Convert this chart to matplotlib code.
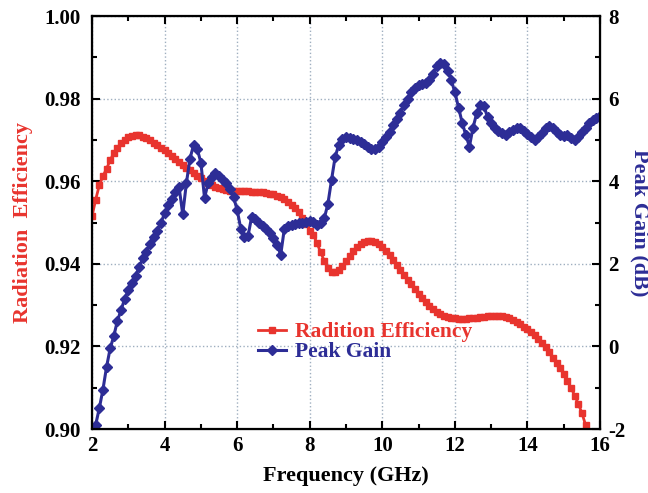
import numpy as np
import matplotlib
matplotlib.use('Agg')
import matplotlib.pyplot as plt
from matplotlib.ticker import MultipleLocator

plt.rcParams['font.family'] = ['Liberation Serif', 'DejaVu Serif']
plt.rcParams['font.weight'] = 'bold'
plt.rcParams['axes.labelweight'] = 'bold'
plt.rcParams['axes.unicode_minus'] = False

# ==========================================================
# Data
# ==========================================================
freq_eff = [round(2.0 + 0.1 * i, 1) for i in range(137)]  # 2.0 .. 15.6 GHz
efficiency = [
    0.9515, 0.9555, 0.9590, 0.9612, 0.9630, 0.9651, 0.9668, 0.9681, 0.9692, 0.9700,
    0.9706, 0.9710, 0.9712, 0.9711, 0.9708, 0.9704, 0.9699, 0.9693, 0.9687, 0.9681,
    0.9675, 0.9668, 0.9661, 0.9654, 0.9647, 0.9640, 0.9633, 0.9626, 0.9619, 0.9613,
    0.9607, 0.9601, 0.9596, 0.9591, 0.9587, 0.9583, 0.9580, 0.9578, 0.9577, 0.9576,
    0.9576, 0.9576, 0.9576, 0.9576, 0.9575, 0.9575, 0.9574, 0.9573, 0.9572, 0.9570,
    0.9568, 0.9565, 0.9561, 0.9556, 0.9550, 0.9543, 0.9535, 0.9525, 0.9512, 0.9497,
    0.9480, 0.9470, 0.9450, 0.9428, 0.9407, 0.9390, 0.9381, 0.9381, 0.9386, 0.9395,
    0.9406, 0.9418, 0.9430, 0.9440, 0.9448, 0.9453, 0.9456, 0.9456, 0.9453, 0.9448,
    0.9440, 0.9431, 0.9421, 0.9410, 0.9398, 0.9386, 0.9374, 0.9362, 0.9350, 0.9339,
    0.9328, 0.9318, 0.9308, 0.9299, 0.9291, 0.9284, 0.9278, 0.9274, 0.9271, 0.9269,
    0.9268, 0.9267, 0.9267, 0.9267, 0.9268, 0.9269, 0.9270, 0.9271, 0.9272, 0.9273,
    0.9273, 0.9274, 0.9274, 0.9273, 0.9272, 0.9269, 0.9265, 0.9260, 0.9254, 0.9248,
    0.9243, 0.9236, 0.9228, 0.9219, 0.9209, 0.9198, 0.9186, 0.9173, 0.9160, 0.9147,
    0.9133, 0.9117, 0.9100, 0.9081, 0.9061, 0.9039, 0.9010,
]

freq_gain = [round(2.0 + 0.1 * i, 1) for i in range(141)]  # 2.0 .. 16.0 GHz
peak_gain = [
    -2.05, -1.90, -1.50, -1.05, -0.50, -0.05, 0.25, 0.62, 0.88, 1.15,
    1.37, 1.53, 1.70, 1.93, 2.13, 2.29, 2.47, 2.65, 2.80, 3.00,
    3.22, 3.42, 3.58, 3.75, 3.85, 3.20, 3.95, 4.55, 4.88, 4.78,
    4.45, 3.60, 3.95, 4.10, 4.19, 4.12, 4.04, 3.95, 3.82, 3.62,
    3.30, 2.85, 2.66, 2.68, 3.14, 3.08, 3.00, 2.92, 2.84, 2.75,
    2.62, 2.45, 2.22, 2.85, 2.92, 2.94, 2.96, 2.98, 3.00, 3.02,
    3.04, 3.02, 2.95, 2.98, 3.10, 3.45, 4.03, 4.59, 4.88, 5.02,
    5.08, 5.05, 5.02, 4.99, 4.94, 4.89, 4.84, 4.79, 4.77, 4.84,
    4.95, 5.06, 5.20, 5.36, 5.50, 5.65, 5.85, 6.00, 6.15, 6.25,
    6.32, 6.35, 6.37, 6.45, 6.60, 6.78, 6.87, 6.83, 6.68, 6.45,
    6.15, 5.78, 5.42, 5.12, 4.84, 5.30, 5.64, 5.84, 5.82, 5.55,
    5.40, 5.30, 5.22, 5.17, 5.13, 5.18, 5.24, 5.29, 5.30, 5.22,
    5.15, 5.08, 5.01, 5.08, 5.17, 5.28, 5.34, 5.28, 5.20, 5.12,
    5.09, 5.11, 5.05, 5.00, 5.08, 5.18, 5.30, 5.40, 5.48, 5.54,
    5.58,
]

red = '#E8342E'
blue = '#2D2D96'

# ==========================================================
# Figure
# ==========================================================
fig = plt.figure(figsize=(6.48, 4.93), dpi=100)
ax = fig.add_axes([0.1420, 0.1298, 0.7840, 0.8377])
ax2 = ax.twinx()

l1, = ax.plot(freq_eff, efficiency, color=red, marker='s', markersize=4,
              linewidth=2, label='Radition Efficiency')
l2, = ax2.plot(freq_gain, peak_gain, color=blue, marker='D', markersize=4.6,
               linewidth=2.2, label='Peak Gain')

ax.set_xlim(2, 16)
ax.set_ylim(0.90, 1.00)
ax2.set_ylim(-2, 8)

ax.xaxis.set_major_locator(MultipleLocator(2))
ax.xaxis.set_minor_locator(MultipleLocator(1))
ax.yaxis.set_major_locator(MultipleLocator(0.02))
ax.yaxis.set_minor_locator(MultipleLocator(0.01))
ax2.yaxis.set_major_locator(MultipleLocator(2))
ax2.yaxis.set_minor_locator(MultipleLocator(1))
ax.yaxis.set_major_formatter(plt.FormatStrFormatter('%.2f'))

ax.grid(True, which='major', linestyle=':', color='#9FAFC0', linewidth=1)

ax.tick_params(which='both', direction='in', top=True, right=False,
               labelsize=15, width=1.5)
ax.tick_params(axis='y', pad=8)
ax.tick_params(axis='x', pad=5)
ax.tick_params(which='major', length=6)
ax.tick_params(which='minor', length=3.5)
ax2.tick_params(which='both', direction='in', labelsize=15, width=1.5, pad=6)
ax2.tick_params(which='major', length=6)
ax2.tick_params(which='minor', length=3.5)

for sp in ax2.spines.values():
    sp.set_linewidth(1.6)

ax.set_xlabel('Frequency (GHz)', fontsize=16, labelpad=7)
ax.set_ylabel('Radiation  Efficiency', fontsize=16, color=red, labelpad=8)
ax2.set_ylabel('Peak Gain (dB)', fontsize=16, color=blue, rotation=270,
               labelpad=17)

leg = ax2.legend(handles=[l1, l2], loc='upper left', bbox_to_anchor=(0.31, 0.28),
                 frameon=False, handlelength=1.3, handletextpad=0.4,
                 labelspacing=0.0, borderaxespad=0,
                 prop={'size': 15.5, 'weight': 'bold'})
for txt, c in zip(leg.get_texts(), [red, blue]):
    txt.set_color(c)

fig.savefig('out.png', dpi=100)
